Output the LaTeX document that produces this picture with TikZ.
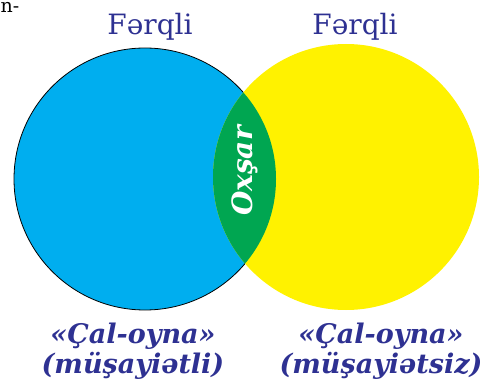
\documentclass[tikz,border=0pt]{standalone}
\usepackage{fontspec}
\setmainfont{DejaVu Serif}
\definecolor{vblue}{HTML}{00AEEF}
\definecolor{vyellow}{HTML}{FFF200}
\definecolor{vgreen}{HTML}{00A651}
\definecolor{vtext}{HTML}{2E3192}
\tikzset{
  ferq/.style={text=vtext, inner sep=0pt, anchor=base, font=\fontsize{28}{28}\selectfont},
  lbl/.style={text=vtext, inner sep=0pt, anchor=base, font=\bfseries\itshape\fontsize{27}{27}\selectfont},
  oxs/.style={text=white, inner sep=0pt, rotate=90, font=\bfseries\itshape\fontsize{28}{28}\selectfont},
}
\begin{document}
\begin{tikzpicture}[x=1pt,y=-1pt]
\useasboundingbox (0,0) rectangle (487,382);
\coordinate (lc) at (145,179);
\coordinate (rc) at (346,177);
\fill[vblue] (lc) circle (131pt);
\draw[black, line width=0.8pt] (lc) circle (131pt);
\fill[vyellow] (rc) circle (133pt);
\begin{scope}
  \clip (lc) circle (131pt);
  \fill[vgreen] (rc) circle (133pt);
\end{scope}
\node[anchor=base west, inner sep=0pt, font=\fontsize{19}{19}\selectfont] (cut) at (0.5,13) {n-};
\node[ferq] (f1) at (150,35) {Fərqli};
\node[ferq] (f2) at (355,35) {Fərqli};
\node[oxs] (ox) at (245,171) {Oxşar};
\node[lbl] (b1a) at (133,343) {«Çal-oyna»};
\node[lbl] (b1b) at (133,373) {(müşayiətli)};
\node[lbl] (b2a) at (381,343) {«Çal-oyna»};
\node[lbl] (b2b) at (381,373) {(müşayiətsiz)};
\end{tikzpicture}
\end{document}
